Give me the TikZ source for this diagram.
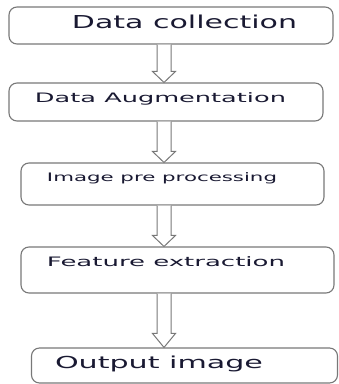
\documentclass[tikz,border=0pt]{standalone}
\usepackage{fontspec}
\setmainfont{DejaVu Sans}
\usepackage{graphicx}
\usetikzlibrary{calc}
\definecolor{txtc}{RGB}{25,25,50}
\definecolor{edgec}{RGB}{120,120,120}
\newcommand{\mytxt}[3]{\resizebox{#1}{\height}{\fontsize{#2}{#2}\selectfont #3}}
\tikzset{
  stepbox/.style={draw=edgec, line width=1.1pt, rounded corners=8pt, fill=white, inner sep=0pt},
  steptext/.style={anchor=base, inner sep=0pt, text=txtc},
  blockarrow/.style={draw=edgec, line width=1pt, fill=white, line join=miter}
}
\newcommand{\hollowarrow}[3]{%
  \draw[blockarrow]
    ($(#1.south -| ax)+(-7,0)$) -- ($(#2.north -| ax)+(-7,-#3)$) -- ($(#2.north -| ax)+(-11.5,-#3)$)
    -- (#2.north -| ax) -- ($(#2.north -| ax)+(11.5,-#3)$) -- ($(#2.north -| ax)+(7,-#3)$)
    -- ($(#1.south -| ax)+(7,0)$);}
\begin{document}
\begin{tikzpicture}[x=1pt, y=-1pt]
\useasboundingbox (0,0) rectangle (339,384);
\coordinate (ax) at (164,0);
\node[stepbox, minimum width=324pt, minimum height=37pt] (b1) at (171,25.5) {};
\node[stepbox, minimum width=314pt, minimum height=38pt] (b2) at (166,102) {};
\node[stepbox, minimum width=303pt, minimum height=42pt] (b3) at (172.5,184) {};
\node[stepbox, minimum width=313pt, minimum height=46pt] (b4) at (177.5,270) {};
\node[stepbox, minimum width=306pt, minimum height=35pt] (b5) at (184.5,365.5) {};
\node[steptext] (t1) at (184.5,28) {\mytxt{225pt}{17.8}{Data collection}};
\node[steptext] (t2) at (160.5,102) {\mytxt{251pt}{13}{Data Augmentation}};
\node[steptext] (t3) at (162,181.5) {\mytxt{230pt}{11.7}{Image pre processing}};
\node[steptext] (t4) at (166,266) {\mytxt{238pt}{13}{Feature extraction}};
\node[steptext] (t5) at (159,368) {\mytxt{208pt}{16.5}{Output image}};
\hollowarrow{b1}{b2}{11}
\hollowarrow{b2}{b3}{11}
\hollowarrow{b3}{b4}{11}
\hollowarrow{b4}{b5}{14}
\end{tikzpicture}
\end{document}
